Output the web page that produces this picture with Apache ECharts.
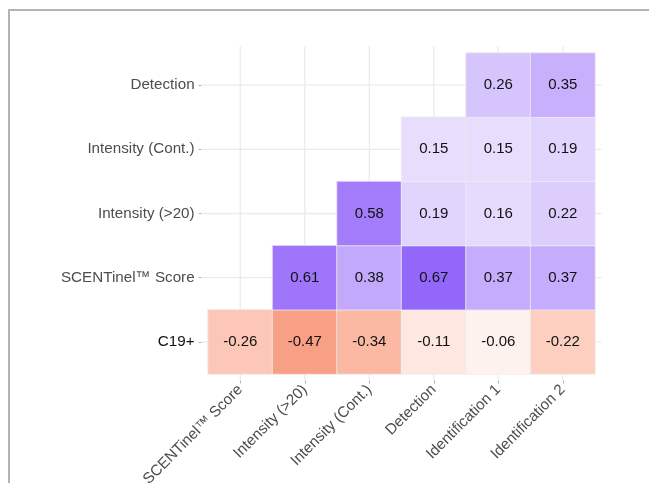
<!DOCTYPE html>
<html>
<head>
<meta charset="utf-8">
<script src="https://cdn.jsdelivr.net/npm/echarts@6/dist/echarts.min.js"></script>
<style>
html,body{margin:0;padding:0;background:#fff;}
#chart{width:649px;height:483px;}
#frame{position:absolute;left:8px;top:9px;width:641px;height:474px;border-top:2px solid #b4b4b4;border-left:2px solid #b4b4b4;pointer-events:none;}
</style>
</head>
<body>
<div id="chart"></div>
<div id="frame"></div>
<script>
const xCats = ['SCENTinel™ Score','Intensity (>20)','Intensity (Cont.)','Detection','Identification 1','Identification 2'];
const yCats = ['C19+','SCENTinel™ Score','Intensity (>20)','Intensity (Cont.)','Detection'];
const rowC19 = [-0.26,-0.47,-0.34,-0.11,-0.06,-0.22];
const rowScentinel = [null,0.61,0.38,0.67,0.37,0.37];
const rowIntensity20 = [null,null,0.58,0.19,0.16,0.22];
const rowIntensityCont = [null,null,null,0.15,0.15,0.19];
const rowDetection = [null,null,null,null,0.26,0.35];
const rows = [rowC19,rowScentinel,rowIntensity20,rowIntensityCont,rowDetection];

const cells = [];
rows.forEach((r,yi)=>r.forEach((v,xi)=>{ if(v!==null) cells.push([xi,yi,v]); }));

const chart = echarts.init(document.getElementById('chart'));
const font = "'Liberation Sans', Arial, sans-serif";

function gridLineV(params, api){
  const size = api.size([1,1]);
  const p = api.coord([api.value(0), 0]);
  const top = api.coord([0, yCats.length-1])[1] - size[1]*0.6;
  const bottom = api.coord([0, 0])[1] + size[1]*0.6;
  return {type:'line', shape:{x1:p[0],y1:top,x2:p[0],y2:bottom}, style:{stroke:'#ebebeb', lineWidth:1.3}, silent:true};
}
function gridLineH(params, api){
  const size = api.size([1,1]);
  const p = api.coord([0, api.value(1)]);
  const left = api.coord([0, 0])[0] - size[0]*0.6;
  const right = api.coord([xCats.length-1, 0])[0] + size[0]*0.6;
  return {type:'line', shape:{x1:left,y1:p[1],x2:right,y2:p[1]}, style:{stroke:'#ebebeb', lineWidth:1.3}, silent:true};
}

chart.setOption({
  backgroundColor:'#ffffff',
  animation:false,
  grid:{left:208, top:53, width:387, height:321, containLabel:false, outerBoundsMode:'none'},
  xAxis:{
    type:'category', data:xCats, offset:6.4,
    axisLine:{show:false},
    axisTick:{show:true, alignWithLabel:true, length:3, lineStyle:{color:'#b0b0b0'}},
    axisLabel:{interval:0, rotate:45, margin:7, fontSize:15.2, color:'#4d4d4d', fontFamily:font},
    splitLine:{show:false}
  },
  yAxis:{
    type:'category', data:yCats, offset:6.4,
    axisLine:{show:false},
    axisTick:{show:true, alignWithLabel:true, length:3, lineStyle:{color:'#b0b0b0'}},
    axisLabel:{interval:0, margin:7, fontSize:15.2, fontFamily:font,
      color:function(v){ return v==='C19+' ? '#111111' : '#4d4d4d'; }},
    splitLine:{show:false}
  },
  visualMap:{
    show:false, dimension:2, min:-0.5, max:0.75,
    inRange:{color:['#f89a7e','#fcc9b8','#ffffff','#d8c6fc','#b08ffc','#8654f9']}
  },
  series:[
    {type:'custom', clip:false, z:1, silent:true, data:xCats.map((c,i)=>[i,0]), renderItem:gridLineV},
    {type:'custom', clip:false, z:1, silent:true, data:yCats.map((c,i)=>[0,i]), renderItem:gridLineH},
    {
      type:'heatmap', z:2, data:cells,
      itemStyle:{borderColor:'rgba(238,238,238,0.8)', borderWidth:1},
      label:{show:true, fontSize:15, color:'#111', fontFamily:font,
        formatter:function(p){ return p.value[2].toFixed(2); }}
    }
  ]
});
</script>
</body>
</html>
